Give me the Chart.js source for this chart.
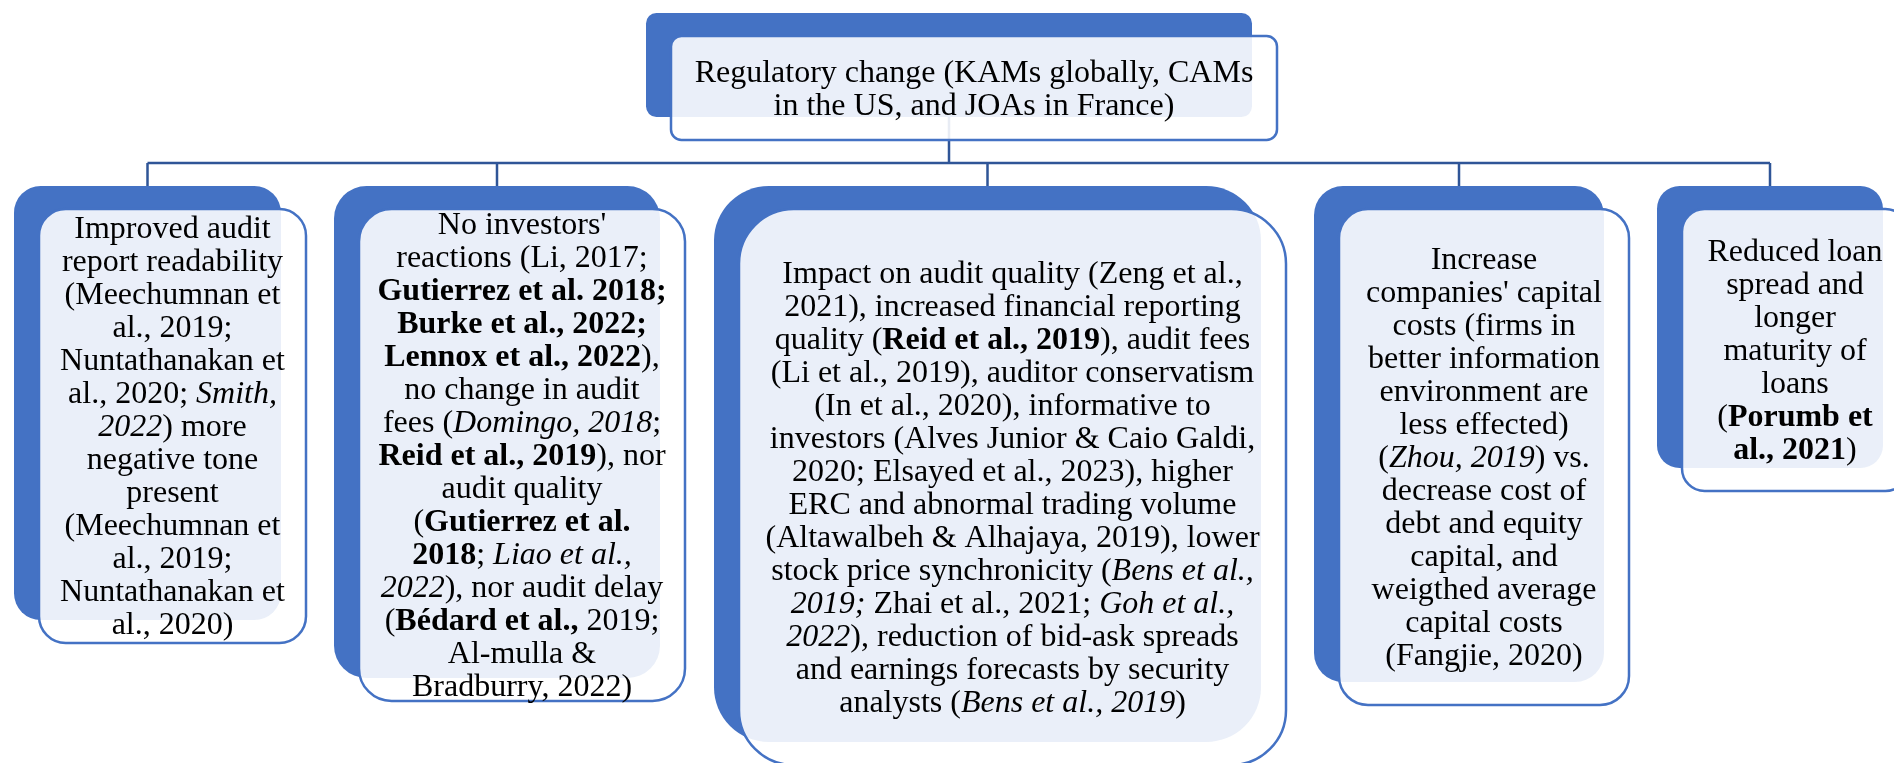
<!DOCTYPE html>
<html>
<head>
<meta charset="utf-8">
<script src="https://cdn.jsdelivr.net/npm/chart.js@4.4.1/dist/chart.umd.min.js"></script>
<style>
    html, body { margin: 0; padding: 0; background: #ffffff; }
    #wrap { width: 1894px; height: 763px; position: relative; }
</style>
</head>
<body>
<div id="wrap"><canvas id="diagramChart"></canvas></div>
<script>
// Node texts (** = bold, * = italic)
const rootLines = ['Regulatory change (KAMs globally, CAMs', 'in the US, and JOAs in France)'];

const readabilityLines = ['Improved audit', 'report readability', '(Meechumnan et', 'al., 2019;', 'Nuntathanakan et',
    'al., 2020; *Smith,*', '*2022*) more', 'negative tone', 'present', '(Meechumnan et', 'al., 2019;',
    'Nuntathanakan et', 'al., 2020)'];

const noReactionLines = ["No investors'", 'reactions (Li, 2017;', '**Gutierrez et al. 2018;**', '**Burke et al., 2022;**',
    '**Lennox et al., 2022**),', 'no change in audit', 'fees (*Domingo, 2018*;', '**Reid et al., 2019**), nor',
    'audit quality', '(**Gutierrez et al.**', '**2018**; *Liao et al.,*', '*2022*), nor audit delay',
    '(**Bédard et al.,** 2019;', 'Al-mulla &', 'Bradburry, 2022)'];

const impactLines = ['Impact on audit quality (Zeng et al.,', '2021), increased financial reporting',
    'quality (**Reid et al., 2019**), audit fees', '(Li et al., 2019), auditor conservatism',
    '(In et al., 2020), informative to', 'investors (Alves Junior & Caio Galdi,',
    '2020; Elsayed et al., 2023), higher', 'ERC and abnormal trading volume',
    '(Altawalbeh & Alhajaya, 2019), lower', 'stock price synchronicity (*Bens et al.,*',
    '*2019;* Zhai et al., 2021; *Goh et al.,*', '*2022*), reduction of bid-ask spreads',
    'and earnings forecasts by security', 'analysts (*Bens et al., 2019*)'];

const capitalLines = ['Increase', "companies' capital", 'costs (firms in', 'better information', 'environment are',
    'less effected)', '(*Zhou, 2019*) vs.', 'decrease cost of', 'debt and equity', 'capital, and',
    'weigthed average', 'capital costs', '(Fangjie, 2020)'];

const loanLines = ['Reduced loan', 'spread and', 'longer', 'maturity of', 'loans', '(**Porumb et**', '**al., 2021**)'];

const childTexts = [readabilityLines, noReactionLines, impactLines, capitalLines, loanLines];

// Layout in diagram units (back box x, y, w, h); front box is shifted
const rootBox = { x: 646, y: 13, w: 606, h: 104 };
const childBoxes = [
    { x: 14, y: 186, w: 267, h: 434 },
    { x: 334, y: 186, w: 326, h: 492 },
    { x: 714, y: 186, w: 547, h: 556 },
    { x: 1314, y: 186, w: 290, h: 496 },
    { x: 1657, y: 186, w: 226, h: 282 }
];
const frontShift = { dx: 25, dy: 23 };
const busY = 163;

const BLUE = '#4472C4';
const LINE = '#2F5597';
const FONT = '"Liberation Serif", "Times New Roman", serif';
const FONT_SIZE = 32;
const LINE_GAP = 33;

function parseRuns(line) {
    const runs = [];
    const re = /(\*\*[^*]+\*\*|\*[^*]+\*)/g;
    let last = 0, m;
    while ((m = re.exec(line)) !== null) {
        if (m.index > last) runs.push({ t: line.slice(last, m.index), s: '' });
        if (m[0].startsWith('**')) runs.push({ t: m[0].slice(2, -2), s: 'bold' });
        else runs.push({ t: m[0].slice(1, -1), s: 'italic' });
        last = m.index + m[0].length;
    }
    if (last < line.length) runs.push({ t: line.slice(last), s: '' });
    return runs;
}

function roundRect(ctx, x, y, w, h, r) {
    ctx.beginPath();
    ctx.moveTo(x + r, y);
    ctx.lineTo(x + w - r, y);
    ctx.arcTo(x + w, y, x + w, y + r, r);
    ctx.lineTo(x + w, y + h - r);
    ctx.arcTo(x + w, y + h, x + w - r, y + h, r);
    ctx.lineTo(x + r, y + h);
    ctx.arcTo(x, y + h, x, y + h - r, r);
    ctx.lineTo(x, y + r);
    ctx.arcTo(x, y, x + r, y, r);
    ctx.closePath();
}

const diagramPlugin = {
    id: 'diagram',
    afterDatasetsDraw(chart) {
        const ctx = chart.ctx;
        const sx = chart.scales.x, sy = chart.scales.y;
        const px = v => sx.getPixelForValue(v);
        const py = v => sy.getPixelForValue(v);

        function toPx(b, shift) {
            const x0 = px(b.x + (shift ? frontShift.dx : 0));
            const y0 = py(b.y + (shift ? frontShift.dy : 0));
            const x1 = px(b.x + b.w + (shift ? frontShift.dx : 0));
            const y1 = py(b.y + b.h + (shift ? frontShift.dy : 0));
            return { x: x0, y: y0, w: x1 - x0, h: y1 - y0 };
        }

        ctx.save();

        // connectors
        ctx.strokeStyle = LINE;
        ctx.lineWidth = 2.5;
        ctx.beginPath();
        const rootCx = px(rootBox.x + rootBox.w / 2);
        ctx.moveTo(rootCx, py(rootBox.y + rootBox.h));
        ctx.lineTo(rootCx, py(busY));
        const cxs = childBoxes.map(b => px(b.x + b.w / 2));
        ctx.moveTo(cxs[0], py(busY));
        ctx.lineTo(cxs[cxs.length - 1], py(busY));
        childBoxes.forEach((b, i) => {
            ctx.moveTo(cxs[i], py(busY));
            ctx.lineTo(cxs[i], py(b.y));
        });
        ctx.stroke();

        const nodes = [{ box: rootBox, lines: rootLines }].concat(
            childBoxes.map((b, i) => ({ box: b, lines: childTexts[i] })));

        nodes.forEach(n => {
            const back = toPx(n.box, false);
            const front = toPx(n.box, true);
            const r = 0.1 * Math.min(back.w, back.h);

            roundRect(ctx, back.x, back.y, back.w, back.h, r);
            ctx.fillStyle = BLUE;
            ctx.fill();

            roundRect(ctx, front.x, front.y, front.w, front.h, r);
            ctx.fillStyle = 'rgba(255,255,255,0.89)';
            ctx.fill();
            ctx.strokeStyle = BLUE;
            ctx.lineWidth = 2.5;
            ctx.stroke();

            // text
            const cx = front.x + front.w / 2;
            const cy = front.y + front.h / 2;
            const nl = n.lines.length;
            ctx.fillStyle = '#000000';
            ctx.textBaseline = 'alphabetic';
            ctx.textAlign = 'left';
            n.lines.forEach((line, i) => {
                const runs = parseRuns(line);
                let total = 0;
                runs.forEach(run => {
                    ctx.font = run.s + ' ' + FONT_SIZE + 'px ' + FONT;
                    run.w = ctx.measureText(run.t).width;
                    total += run.w;
                });
                let x = cx - total / 2;
                const y = cy + (i - (nl - 1) / 2) * LINE_GAP + 10;
                runs.forEach(run => {
                    ctx.font = run.s + ' ' + FONT_SIZE + 'px ' + FONT;
                    ctx.fillText(run.t, x, y);
                    x += run.w;
                });
            });
        });

        ctx.restore();
    }
};

document.addEventListener('DOMContentLoaded', function() {
    const ctx = document.getElementById('diagramChart').getContext('2d');
    new Chart(ctx, {
        type: 'scatter',
        data: {
            datasets: [{
                data: [{ x: rootBox.x + rootBox.w / 2, y: rootBox.y + rootBox.h / 2 }].concat(
                    childBoxes.map(b => ({ x: b.x + b.w / 2, y: b.y + b.h / 2 }))),
                pointRadius: 0
            }]
        },
        options: {
            responsive: true,
            maintainAspectRatio: false,
            animation: false,
            layout: { padding: 0 },
            plugins: {
                legend: { display: false },
                tooltip: { enabled: false }
            },
            scales: {
                x: { type: 'linear', min: 0, max: 1894, display: false },
                y: { type: 'linear', min: 0, max: 763, reverse: true, display: false }
            }
        },
        plugins: [diagramPlugin]
    });
});
</script>
</body>
</html>
